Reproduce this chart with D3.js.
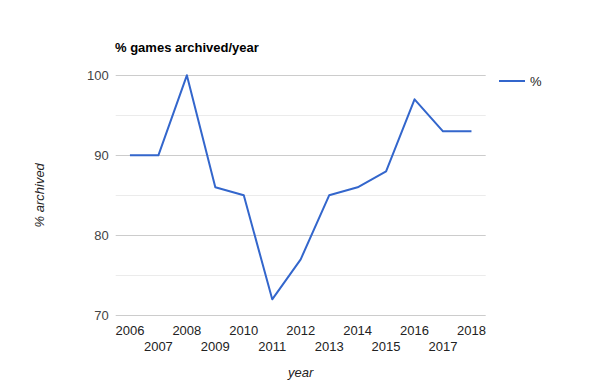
<!DOCTYPE html>
<html><head><meta charset="utf-8">
<script src="https://cdnjs.cloudflare.com/ajax/libs/d3/7.8.5/d3.min.js"></script>
<style>body{margin:0;background:#fff}svg{display:block;font-family:Arial,"Liberation Sans",sans-serif}</style>
</head><body><div id="c"></div>
<script>
const years = ["2006","2007","2008","2009","2010","2011","2012","2013","2014","2015","2016","2017","2018"];
const values = [90,90,100,86,85,72,77,85,86,88,97,93,93];
const yTicks = [70,80,90,100];
const yMinor = [75,85,95];
const title = "% games archived/year";
const seriesName = "%";
const xTitle = "year", yTitle = "% archived";

const W=600,H=390, L=115.7, R=485.7, T=75.3, B=315.3;
const svg=d3.select("#c").append("svg").attr("width",W).attr("height",H);
const x=d3.scaleBand().domain(years).range([L,R]);
const y=d3.scaleLinear().domain([70,100]).range([B,T]);

svg.append("g").selectAll("line").data(yMinor).join("line")
  .attr("x1",L).attr("x2",R).attr("y1",d=>Math.round(y(d))+0.5).attr("y2",d=>Math.round(y(d))+0.5)
  .attr("stroke","#ebebeb");
svg.append("g").selectAll("line").data(yTicks).join("line")
  .attr("x1",L).attr("x2",R).attr("y1",d=>Math.round(y(d))+0.5).attr("y2",d=>Math.round(y(d))+0.5)
  .attr("stroke","#cccccc");

svg.append("g").selectAll("text").data(yTicks).join("text")
  .attr("x",L-7).attr("y",d=>y(d)+5).attr("text-anchor","end")
  .attr("font-size",13).attr("fill","#444").text(d=>d);

svg.append("g").selectAll("text").data(years).join("text")
  .attr("x",d=>x(d)+x.bandwidth()/2).attr("y",(d,i)=>i%2===0?334.5:350.5)
  .attr("text-anchor","middle").attr("font-size",13).attr("fill","#222").text(d=>d);

const line=d3.line().x((d,i)=>x(years[i])+x.bandwidth()/2).y(d=>y(d));
svg.append("path").datum(values).attr("d",line).attr("fill","none")
  .attr("stroke","#3366cc").attr("stroke-width",2).attr("stroke-linejoin","round");

svg.append("text").attr("x",115).attr("y",52).attr("font-size",13).attr("font-weight","bold")
  .attr("fill","#000").text(title);

svg.append("text").attr("x",300.7).attr("y",377).attr("text-anchor","middle")
  .attr("font-size",13).attr("font-style","italic").attr("fill","#222").text(xTitle);
svg.append("text").attr("transform","translate(44,195.3) rotate(-90)").attr("text-anchor","middle")
  .attr("font-size",13).attr("font-style","italic").attr("fill","#222").text(yTitle);

svg.append("line").attr("x1",499).attr("x2",525).attr("y1",81).attr("y2",81)
  .attr("stroke","#3366cc").attr("stroke-width",2);
svg.append("text").attr("x",530).attr("y",86).attr("font-size",13).attr("fill","#222").text(seriesName);
</script></body></html>
